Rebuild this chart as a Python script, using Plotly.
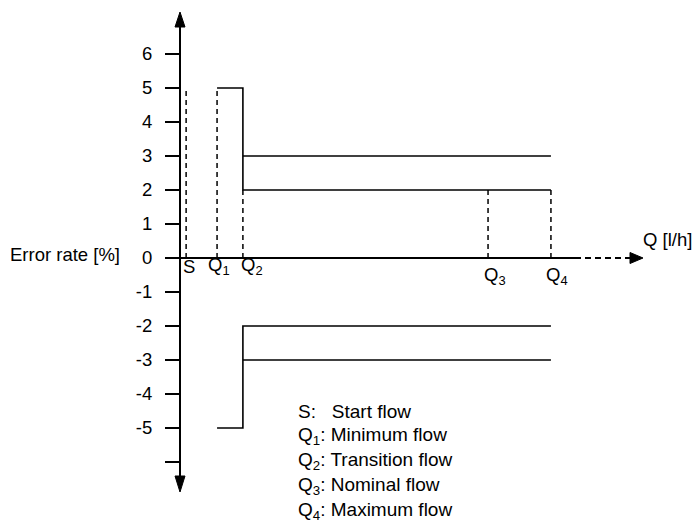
import plotly.graph_objects as go

# ---------------- data ----------------
flow_labels = ["S", "Q<sub>1</sub>", "Q<sub>2</sub>", "Q<sub>3</sub>", "Q<sub>4</sub>"]
flow_desc = ["Start flow", "Minimum flow", "Transition flow", "Nominal flow", "Maximum flow"]
flow_pos = [0.18, 1.09, 1.85, 9.06, 10.91]          # schematic flow positions (S, Q1..Q4)
lower_zone_limits = [5, -5]                         # error limits between Q1 and Q2 [%]
upper_zone_limits = [3, 2, -2, -3]                  # error limits between Q2 and Q4 [%]
start_mark = 5                                      # height of dashed S / Q1 markers
drop_top = 2                                        # height of dashed Q2..Q4 markers
y_tick_vals = [6, 5, 4, 3, 2, 1, 0, -1, -2, -3, -4, -5, -6]
y_tick_text = ["6", "5", "4", "3", "2", "1", "0", "-1", "-2", "-3", "-4", "-5", ""]

# ---------------- geometry (window pixels) ----------------
W, H = 695, 524
PX = 34.0           # pixels per unit on both axes
X0, Y0 = 180, 258   # pixel position of the origin

def ux(p):  # pixel -> x units
    return (p - X0) / PX

def uy(p):  # pixel -> y units
    return (Y0 - p) / PX

def paper_x(p):
    return p / W

def paper_y(p):
    return 1 - p / H

S, Q1, Q2, Q3, Q4 = flow_pos
BLACK = "#000000"
FONT = "Liberation Sans, Arial, sans-serif"
FS = 18.5

fig = go.Figure()

def seg(xs, ys, width=1.6, dash="solid"):
    fig.add_trace(go.Scatter(x=xs, y=ys, mode="lines", hoverinfo="skip",
                             line=dict(color=BLACK, width=width, dash=dash),
                             showlegend=False))

# axes lines
seg([0, 0], [uy(27), uy(476)], width=2)
seg([0, ux(575)], [0, 0], width=2)
seg([ux(575), ux(631)], [0, 0], width=2, dash="6px,4px")

# arrowheads
def tri(xs, ys):
    fig.add_trace(go.Scatter(x=xs, y=ys, mode="lines", fill="toself",
                             fillcolor=BLACK, line=dict(color=BLACK, width=1),
                             hoverinfo="skip", showlegend=False))

hw = 5 / PX
tri([-hw, 0, hw, -hw], [uy(27), uy(12), uy(27), uy(27)])
tri([-hw, 0, hw, -hw], [uy(476), uy(492), uy(476), uy(476)])
tri([ux(630), ux(643), ux(630), ux(630)], [5.5 / PX, 0, -5.5 / PX, 5.5 / PX])

# dashed marker lines
dash_x, dash_y = [], []
for xp, top in [(S, start_mark), (Q1, start_mark), (Q2, drop_top), (Q3, drop_top), (Q4, drop_top)]:
    dash_x += [xp, xp, None]
    dash_y += [0, top, None]
seg(dash_x, dash_y, width=1.5, dash="5px,4px")

# error limit curves
hi_lo, lo_lo = lower_zone_limits
u3, u2, l2, l3 = upper_zone_limits
seg([Q1, Q2, Q2, Q4], [hi_lo, hi_lo, u2, u2])
seg([Q2, Q4], [u3, u3])
seg([Q1, Q2, Q2, Q4], [lo_lo, lo_lo, l2, l2])
seg([Q2, Q4], [l3, l3])

# ---------------- text ----------------
ann = []
font = dict(family=FONT, size=FS, color=BLACK)
lfont = dict(family=FONT, size=19, color=BLACK)
label_dx = [-5, -11, -4, -6, -7]
label_cy = [266, 266, 266, 276, 276]
for lab, xp, dx, cy in zip(flow_labels, flow_pos, label_dx, label_cy):
    ann.append(dict(text=lab, xref="paper", yref="paper",
                    x=paper_x(X0 + xp * PX + dx), y=paper_y(cy),
                    xanchor="left", yanchor="middle", showarrow=False, font=font))

ann.append(dict(text="Error rate [%]", xref="paper", yref="paper",
                x=paper_x(122), y=paper_y(254), xanchor="right", yanchor="middle",
                showarrow=False, font=font))
ann.append(dict(text="Q [l/h]", xref="paper", yref="paper",
                x=paper_x(641), y=paper_y(239), xanchor="left", yanchor="middle",
                showarrow=False, font=font))

legend_prefix = ["S:&nbsp;&nbsp; ", "Q<sub>1</sub>: ", "Q<sub>2</sub>: ",
                 "Q<sub>3</sub>: ", "Q<sub>4</sub>: "]
for i, (pre, desc) in enumerate(zip(legend_prefix, flow_desc)):
    ann.append(dict(text=pre + desc, xref="paper", yref="paper",
                    x=paper_x(296), y=paper_y(411 + 25 * i), xanchor="left",
                    yanchor="middle", showarrow=False, font=lfont))

fig.update_layout(
    template="none",
    width=W, height=H, autosize=False,
    margin=dict(l=0, r=0, t=0, b=0),
    paper_bgcolor="white", plot_bgcolor="white",
    showlegend=False,
    font=font,
    xaxis=dict(visible=False, range=[ux(0), ux(W)], fixedrange=True),
    yaxis=dict(range=[uy(H), uy(0)], anchor="free", position=X0 / W,
               showline=False, showgrid=False, zeroline=False,
               ticks="outside", ticklen=15, tickwidth=2, tickcolor=BLACK,
               ticklabelstandoff=9,
               tickvals=y_tick_vals, ticktext=y_tick_text,
               tickfont=font, automargin=False, fixedrange=True),
    annotations=ann,
)

fig.write_html("out.html", config={"displayModeBar": False},
               post_script="document.body.style.margin='0';document.body.style.overflow='hidden';")
